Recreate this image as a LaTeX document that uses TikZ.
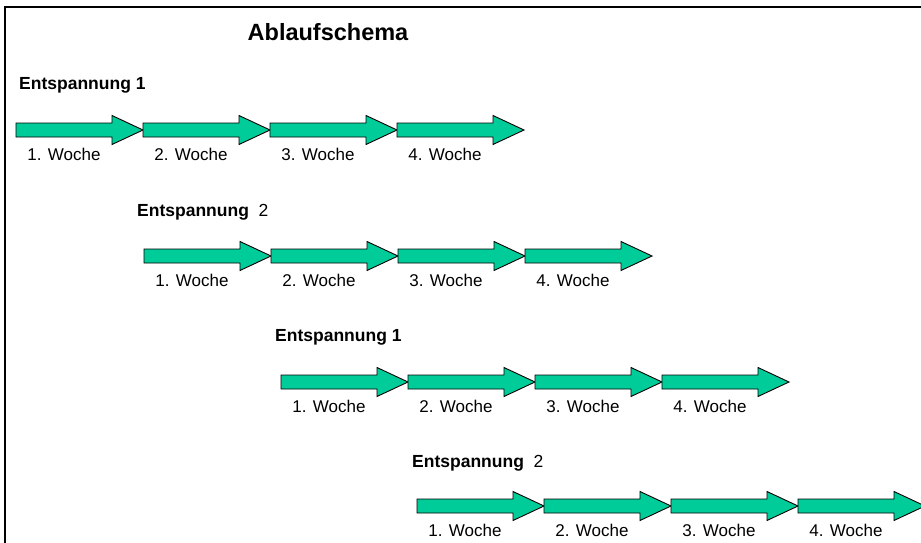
\documentclass[tikz,border=0pt]{standalone}
\usepackage{fontspec}
\setmainfont{Liberation Sans}
\usetikzlibrary{positioning}

\definecolor{weekgreen}{RGB}{0,204,153}

\tikzset{
  weekarrow/.style={draw=black, fill=weekgreen, line width=0.9pt, line join=miter},
  weeklabel/.style={font=\fontsize{17}{20}\selectfont, inner sep=0pt},
  rowtitle/.style={font=\fontsize{17.5}{20}\selectfont, anchor=west, inner sep=0pt}
}

\begin{document}
\begin{tikzpicture}[x=1pt, y=-1pt]
        \useasboundingbox (0,0) rectangle (921,543);

        % frame, open to the right and bottom
        \draw[line width=2pt] (935,7) -- (5,7) -- (5,560);

        \node[font=\bfseries\fontsize{23.5}{26}\selectfont, inner sep=0pt] (title) at (328,32) {Ablaufschema};

        % row headings
        \node[rowtitle] (head1) at (19,85)  {\textbf{Entspannung 1}};
        \node[rowtitle] (head2) at (137,212) {\textbf{Entspannung}\ \ 2};
        \node[rowtitle] (head3) at (275,337) {\textbf{Entspannung 1}};
        \node[rowtitle] (head4) at (412,463) {\textbf{Entspannung}\ \ 2};

        % rows of four weeks: start x / centre y
        \foreach \r/\sx/\cy in {1/16/130, 2/144/256, 3/281/382, 4/417/506} {
            \foreach \w in {1,...,4} {
                \pgfmathsetmacro{\x}{\sx+127*(\w-1)}
                \draw[weekarrow] (\x,\cy-7) -- (\x+96,\cy-7) -- (\x+96,\cy-14.5)
                    -- (\x+127,\cy) -- (\x+96,\cy+14.5) -- (\x+96,\cy+7)
                    -- (\x,\cy+7) -- cycle;
                \node[weeklabel] (r\r w\w) at (\x+48,\cy+24) {\w. Woche};
            }
        }
\end{tikzpicture}
\end{document}
